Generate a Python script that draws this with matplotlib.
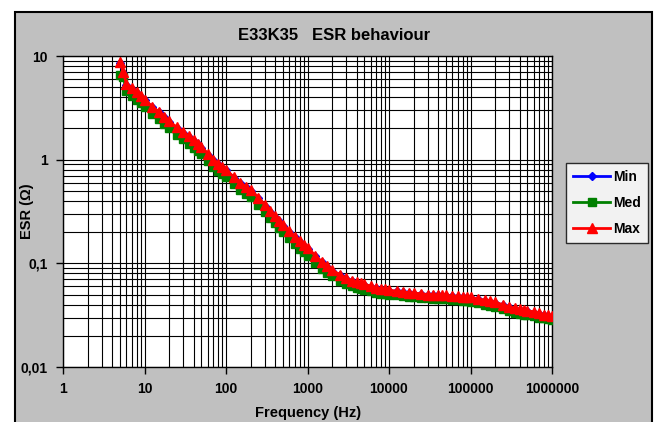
import matplotlib
matplotlib.use("Agg")
import matplotlib.pyplot as plt
from matplotlib.patches import Rectangle
from matplotlib.ticker import LogLocator, FixedLocator, FixedFormatter, NullFormatter

plt.rcParams['font.family'] = ['Liberation Sans', 'DejaVu Sans']
plt.rcParams['font.weight'] = 'bold'

# frequency points (Hz)
freq = [5, 5.5, 6, 7, 8, 9,
        10, 12.5, 15, 17.5, 20, 25, 30, 35, 40, 45, 50, 60, 70, 80, 90,
        100, 125, 150, 175, 200, 250, 300, 350, 400, 450, 500, 600, 700, 800, 900,
        1000, 1250, 1500, 1750, 2000, 2500, 3000, 3500, 4000, 4500, 5000, 6000, 7000, 8000, 9000,
        10000, 12500, 15000, 17500, 20000, 25000, 30000, 35000, 40000, 45000, 50000, 60000, 70000, 80000, 90000,
        100000, 125000, 150000, 175000, 200000, 250000, 300000, 350000, 400000, 450000, 500000,
        600000, 700000, 800000, 900000, 1000000]

esr_max = [8.8, 7.0, 5.4, 4.9, 4.5, 4.1,
           3.8, 3.25, 2.9, 2.6, 2.35, 2.05, 1.85, 1.68, 1.55, 1.43, 1.33, 1.14, 1.0, 0.91, 0.85,
           0.80, 0.68, 0.60, 0.55, 0.51, 0.43, 0.366, 0.32, 0.285, 0.257, 0.234, 0.205, 0.181, 0.163, 0.150,
           0.140, 0.118, 0.104, 0.094, 0.086, 0.078, 0.072, 0.068, 0.066, 0.064, 0.063, 0.060, 0.058, 0.057, 0.056,
           0.055, 0.054, 0.053, 0.052, 0.0515, 0.051, 0.050, 0.050, 0.0495, 0.049, 0.049, 0.0485, 0.048, 0.0475, 0.047,
           0.047, 0.0455, 0.044, 0.043, 0.042, 0.040, 0.038, 0.037, 0.036, 0.0355, 0.035,
           0.034, 0.033, 0.032, 0.0315, 0.031]

esr_med = [6.6, 6.3, 4.55, 4.15, 3.8, 3.5,
           3.23, 2.76, 2.46, 2.2, 2.0, 1.74, 1.57, 1.43, 1.31, 1.21, 1.13, 0.97, 0.85, 0.77, 0.72,
           0.68, 0.58, 0.51, 0.47, 0.435, 0.365, 0.31, 0.272, 0.243, 0.219, 0.199, 0.174, 0.154, 0.139, 0.128,
           0.119, 0.101, 0.089, 0.081, 0.075, 0.068, 0.063, 0.060, 0.058, 0.0565, 0.0555, 0.0535, 0.052, 0.051, 0.0505,
           0.050, 0.049, 0.048, 0.0475, 0.047, 0.0465, 0.046, 0.0455, 0.0455, 0.045, 0.045, 0.0445, 0.044, 0.0435, 0.043,
           0.0425, 0.041, 0.0395, 0.0385, 0.0375, 0.036, 0.0345, 0.0335, 0.0325, 0.032, 0.0315,
           0.031, 0.030, 0.0295, 0.029, 0.0285]

esr_min = [8.6, 6.9, 5.3, 4.8, 4.4, 4.05,
           3.75, 3.2, 2.86, 2.57, 2.32, 2.02, 1.82, 1.66, 1.53, 1.41, 1.31, 1.12, 0.99, 0.90, 0.84,
           0.79, 0.67, 0.59, 0.54, 0.50, 0.425, 0.36, 0.316, 0.282, 0.254, 0.231, 0.202, 0.179, 0.161, 0.148,
           0.138, 0.117, 0.103, 0.093, 0.085, 0.077, 0.071, 0.067, 0.065, 0.063, 0.062, 0.0595, 0.0575, 0.0565, 0.0555,
           0.0545, 0.0535, 0.0525, 0.0515, 0.051, 0.0505, 0.0495, 0.0495, 0.049, 0.0485, 0.0485, 0.048, 0.0475, 0.047, 0.0465,
           0.0465, 0.045, 0.0435, 0.0425, 0.0415, 0.0395, 0.0375, 0.0365, 0.0355, 0.035, 0.0345,
           0.0335, 0.0325, 0.0315, 0.031, 0.0305]

x_ticks = [1, 10, 100, 1000, 10000, 100000, 1000000]
x_labels = ['1', '10', '100', '1000', '10000', '100000', '1000000']
y_ticks = [0.01, 0.1, 1, 10]
y_labels = ['0,01', '0,1', '1', '10']

W, H = 655, 422
fig = plt.figure(figsize=(W / 100, H / 100), dpi=100)
fig.patch.set_facecolor('white')

# chart area (gray box with black border), drawn behind the axes
fig.patches.append(Rectangle((15 / W, -0.02), (652 - 15) / W, (H - 12) / H + 0.02,
                             transform=fig.transFigure, facecolor='#C0C0C0',
                             edgecolor='black', lw=1.5, zorder=-10))

ax = fig.add_axes([63 / W, 1 - 367 / H, (552 - 63) / W, (367 - 56) / H])
ax.set_facecolor('white')

ax.plot(freq, esr_min, color='#0000FF', marker='D', markersize=4, lw=2, label='Min', zorder=3)
ax.plot(freq, esr_med, color='#008000', marker='s', markersize=6, lw=2, label='Med', zorder=4)
ax.plot(freq, esr_max, color='#FF0000', marker='^', markersize=7.5, lw=2, label='Max', zorder=5)

ax.set_xscale('log')
ax.set_yscale('log')
ax.set_xlim(1, 1e6)
ax.set_ylim(0.01, 10)

ax.xaxis.set_major_locator(FixedLocator(x_ticks))
ax.xaxis.set_major_formatter(FixedFormatter(x_labels))
ax.yaxis.set_major_locator(FixedLocator(y_ticks))
ax.yaxis.set_major_formatter(FixedFormatter(y_labels))
for axis in (ax.xaxis, ax.yaxis):
    axis.set_minor_locator(LogLocator(base=10, subs=range(2, 10), numticks=20))
    axis.set_minor_formatter(NullFormatter())

ax.grid(True, which='both', color='black', lw=0.8)
ax.set_axisbelow(True)
ax.tick_params(which='major', direction='out', length=5, width=1, labelsize=10, pad=6)
ax.tick_params(which='minor', length=0)
for lab in ax.get_xticklabels() + ax.get_yticklabels():
    lab.set_fontweight('bold')
for s in ax.spines.values():
    s.set_color('black')
    s.set_linewidth(1)

fig.text(334 / W, 1 - 36 / H, 'E33K35   ESR behaviour', ha='center', va='center',
         fontsize=12, fontweight='bold')
fig.text(308 / W, 1 - 413 / H, 'Frequency (Hz)', ha='center', va='center',
         fontsize=10.5, fontweight='bold')
fig.text(27 / W, 1 - 211 / H, 'ESR (Ω)', ha='center', va='center', rotation=90,
         fontsize=10.5, fontweight='bold')

leg = ax.legend(loc='upper left', bbox_to_anchor=(566 / W, 1 - 163 / H),
                bbox_transform=fig.transFigure, frameon=True, fancybox=False,
                prop={'weight': 'bold', 'size': 10}, handlelength=2.7,
                handletextpad=0.2, labelspacing=0.85, borderpad=0.5,
                borderaxespad=0, markerscale=0.9)
leg.get_frame().set_edgecolor('black')
leg.get_frame().set_linewidth(1)
leg.get_frame().set_facecolor('white')

fig.savefig('out.png', dpi=100)
